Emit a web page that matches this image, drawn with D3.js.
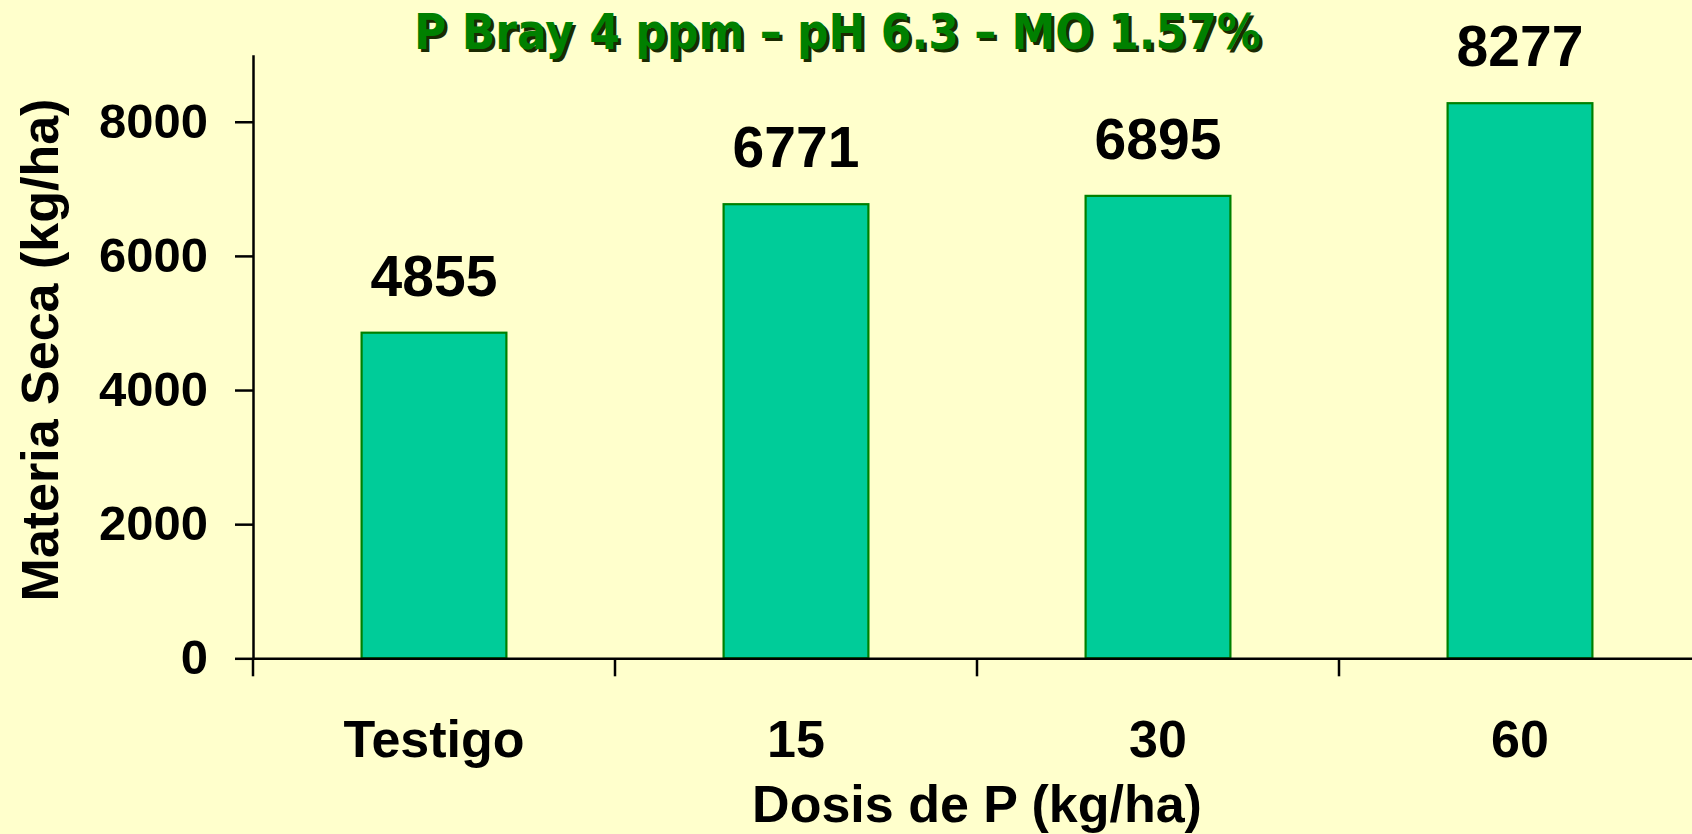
<!DOCTYPE html>
<html>
<head>
<meta charset="utf-8">
<script src="https://cdn.jsdelivr.net/npm/d3@7"></script>
<style>
  html, body { margin: 0; padding: 0; background: #FFFFCC; }
  svg { display: block; }
  text { font-family: "Liberation Sans", Arial, sans-serif; font-weight: bold; }
</style>
</head>
<body>
<script>
const categories = ["Testigo", "15", "30", "60"];
const values = [4855, 6771, 6895, 8277];
const yTicks = [0, 2000, 4000, 6000, 8000];
const titleText = "P Bray 4 ppm \u2013 pH 6.3 \u2013 MO 1.57%";
const xTitle = "Dosis de P (kg/ha)";
const yTitle = "Materia Seca (kg/ha)";

(function () {
const W = 1692, H = 834;
const svg = d3.select("body").append("svg").attr("width", W).attr("height", H);
svg.append("rect").attr("width", W).attr("height", H).attr("fill", "#FFFFCC");

const mLeft = 253, mRight = 1701, mTop = 54.7, mBottom = 658.3;
const x = d3.scaleBand().domain(categories).range([mLeft, mRight]).padding(0);
const y = d3.scaleLinear().domain([0, 9000]).range([mBottom, mTop]);

// bars
const barW = x.bandwidth() * 0.4;
svg.selectAll("rect.bar").data(values).enter().append("rect")
  .attr("class", "bar")
  .attr("x", (d, i) => x(categories[i]) + (x.bandwidth() - barW) / 2)
  .attr("y", d => y(d))
  .attr("width", barW)
  .attr("height", d => y(0) - y(d))
  .attr("fill", "#00CC99")
  .attr("stroke", "#008000")
  .attr("stroke-width", 2.2);

// value labels
svg.selectAll("text.val").data(values).enter().append("text")
  .attr("class", "val")
  .attr("x", (d, i) => x(categories[i]) + x.bandwidth() / 2)
  .attr("y", d => y(d) - 37)
  .attr("text-anchor", "middle")
  .attr("font-size", 57)
  .attr("fill", "#000")
  .text(d => d);

// y axis
const yAxis = d3.axisLeft(y).tickValues(yTicks).tickFormat(d3.format("d"))
  .tickSize(18).tickPadding(27).tickSizeOuter(0);
const gy = svg.append("g").attr("transform", `translate(${mLeft},0)`).call(yAxis);
gy.select(".domain").attr("stroke", "#000").attr("stroke-width", 2.5);
gy.selectAll(".tick line").attr("stroke", "#000").attr("stroke-width", 2.5);
gy.selectAll(".tick text").attr("font-size", 49).attr("fill", "#000")
  .attr("font-family", "Liberation Sans, Arial, sans-serif").attr("font-weight", "bold");

// x axis with ticks at category boundaries
const xAxis = d3.axisBottom(x).tickSize(0).tickPadding(0).tickSizeOuter(0);
const gx = svg.append("g").attr("transform", `translate(0,${mBottom})`).call(xAxis);
gx.select(".domain").attr("stroke", "#000").attr("stroke-width", 2.5);
gx.selectAll(".tick text").attr("font-size", 52).attr("fill", "#000")
  .attr("font-family", "Liberation Sans, Arial, sans-serif").attr("font-weight", "bold")
  .attr("dy", null).attr("y", 98.5);
const boundaries = categories.map(c => x(c)).concat([x(categories[categories.length - 1]) + x.bandwidth()]);
gx.selectAll("line.bnd").data(boundaries).enter().append("line")
  .attr("class", "bnd")
  .attr("x1", d => d).attr("x2", d => d)
  .attr("y1", 0).attr("y2", 18)
  .attr("stroke", "#000").attr("stroke-width", 2.5);

// axis titles
svg.append("text")
  .attr("x", (mLeft + mRight) / 2).attr("y", 822)
  .attr("text-anchor", "middle").attr("font-size", 52).attr("fill", "#000")
  .text(xTitle);
svg.append("text")
  .attr("transform", `translate(58,350) rotate(-90)`)
  .attr("text-anchor", "middle").attr("font-size", 52).attr("fill", "#000")
  .text(yTitle);

// title with shadow
const tg = svg.append("g");
[[3, "#1a2a00"], [0, "#008000"]].forEach(([off, col]) => {
  tg.append("text")
    .attr("x", 837.5 + off).attr("y", 49 + off)
    .attr("text-anchor", "middle").attr("font-size", 50)
    .attr("textLength", 847).attr("lengthAdjust", "spacingAndGlyphs")
    .attr("fill", col).attr("style", "font-family: 'DejaVu Sans', sans-serif; font-weight: bold")
    .text(titleText);
});
})();
</script>
</body>
</html>
